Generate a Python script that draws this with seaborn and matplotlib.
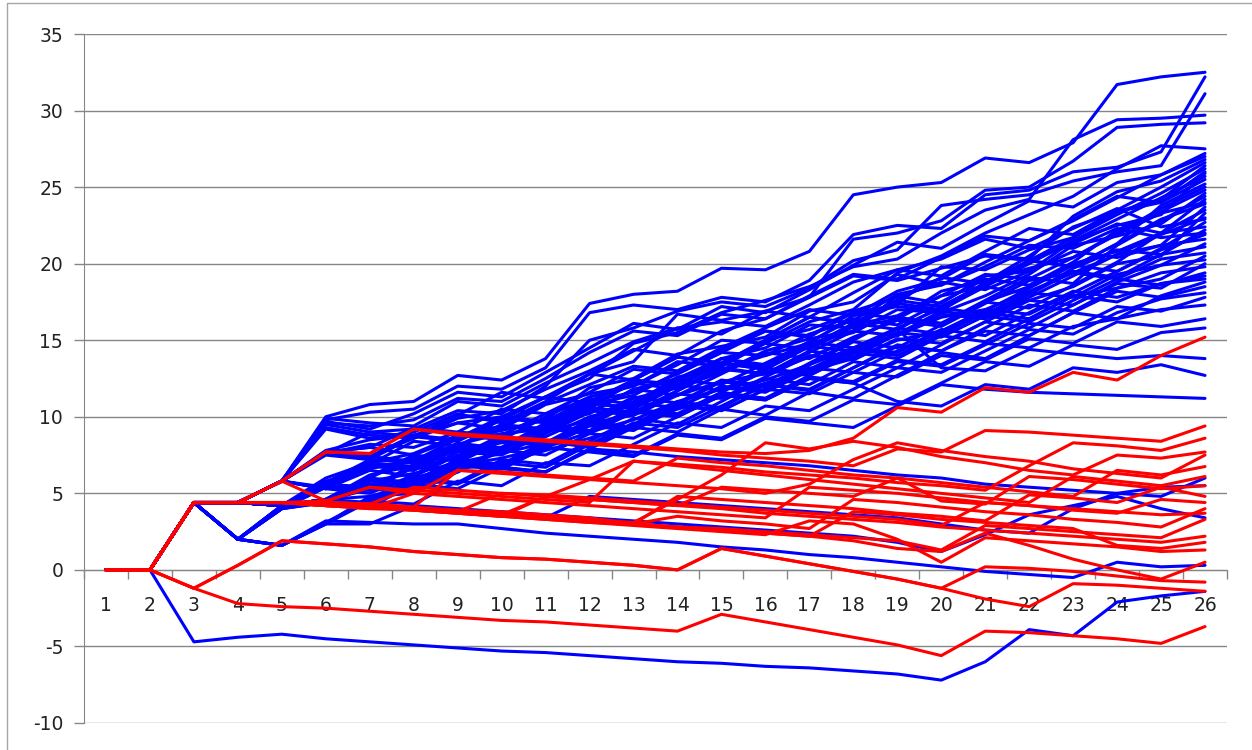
import pandas as pd
import seaborn as sns
import matplotlib.pyplot as plt
from matplotlib.ticker import MultipleLocator
from matplotlib.lines import Line2D

steps = list(range(1, 27))

blue_paths = [
    [0, 0, 4.4, 4.4, 5.8, 10.0, 10.8, 11.0, 12.7, 12.4, 13.8, 17.4, 18.0, 18.2, 19.7, 19.6, 20.8, 24.5, 25.0, 25.3, 26.9, 26.6, 27.9, 31.7, 32.2, 32.5],
    [0, 0, 4.4, 4.4, 5.8, 9.8, 10.3, 10.5, 12.0, 11.8, 13.2, 16.8, 17.3, 17.0, 17.8, 17.5, 18.9, 21.9, 22.5, 22.3, 24.5, 24.8, 26.0, 26.3, 27.3, 32.2],
    [0, 0, 4.4, 4.4, 5.8, 9.5, 9.0, 9.2, 10.4, 10.2, 12.0, 15.0, 15.8, 16.9, 17.5, 17.2, 18.4, 20.2, 20.9, 23.8, 24.2, 24.5, 25.4, 26.0, 26.4, 31.1],
    [0, 0, 4.4, 4.4, 5.8, 9.3, 8.8, 8.6, 9.6, 10.0, 11.3, 12.5, 14.8, 15.5, 16.8, 17.6, 18.5, 19.8, 20.3, 22.0, 23.5, 24.2, 28.1, 29.4, 29.5, 29.7],
    [0, 0, 4.4, 4.4, 5.8, 9.2, 8.6, 9.0, 10.2, 9.6, 11.0, 12.8, 13.6, 16.7, 16.3, 16.9, 17.8, 21.6, 22.0, 22.8, 24.8, 25.0, 26.7, 28.9, 29.1, 29.2],
    [0, 0, 4.4, 4.4, 5.8, 7.8, 8.5, 8.8, 9.6, 9.2, 10.8, 11.5, 12.0, 13.4, 15.0, 14.8, 16.2, 17.0, 19.4, 20.5, 22.0, 23.2, 24.4, 26.2, 27.7, 27.5],
    [0, 0, 4.4, 4.4, 5.8, 7.6, 8.2, 8.0, 9.0, 8.8, 10.2, 11.0, 11.6, 12.8, 14.2, 14.0, 15.4, 16.3, 18.0, 18.6, 20.1, 21.5, 22.8, 24.3, 25.8, 27.2],
    [0, 0, 4.4, 4.4, 5.8, 7.7, 8.0, 7.5, 8.6, 9.4, 10.9, 12.1, 13.3, 13.0, 14.5, 15.8, 17.0, 16.6, 18.2, 19.0, 20.6, 20.3, 23.1, 24.7, 25.4, 26.8],
    [0, 0, 4.4, 4.4, 5.8, 5.3, 6.8, 7.0, 8.1, 8.0, 9.6, 10.2, 11.8, 12.5, 13.8, 13.2, 14.8, 16.6, 17.2, 16.9, 18.8, 20.5, 22.4, 23.4, 24.2, 26.4],
    [0, 0, 4.4, 4.4, 5.8, 5.3, 6.5, 6.1, 7.5, 7.9, 9.0, 9.8, 11.2, 11.9, 12.9, 14.3, 15.1, 15.6, 17.9, 17.4, 19.2, 19.5, 21.5, 22.5, 23.2, 25.9],
    [0, 0, 4.4, 4.4, 4.2, 6.0, 7.0, 7.6, 8.8, 8.5, 10.0, 11.3, 12.0, 13.6, 13.3, 15.0, 15.7, 16.8, 17.3, 19.8, 19.6, 20.9, 21.7, 23.4, 24.0, 25.5],
    [0, 0, 4.4, 4.4, 4.2, 5.8, 6.6, 7.2, 8.2, 8.9, 9.2, 10.5, 12.4, 12.0, 13.8, 14.5, 16.0, 15.8, 16.4, 18.2, 18.9, 19.7, 20.4, 22.0, 23.6, 25.0],
    [0, 0, 4.4, 4.4, 4.2, 4.6, 6.2, 6.8, 7.8, 8.3, 8.7, 10.0, 10.8, 12.6, 13.1, 14.0, 14.8, 15.5, 17.0, 16.8, 17.9, 19.3, 21.2, 21.8, 22.6, 24.6],
    [0, 0, 4.4, 2.0, 4.2, 4.6, 5.8, 6.3, 7.0, 7.6, 8.3, 9.6, 10.1, 11.4, 12.3, 12.8, 13.9, 15.1, 16.4, 16.1, 17.5, 18.5, 20.0, 20.8, 22.0, 24.2],
    [0, 0, 4.4, 2.0, 4.0, 4.5, 5.3, 6.0, 6.8, 7.3, 8.0, 9.0, 9.8, 11.0, 11.8, 12.4, 13.4, 14.5, 15.3, 16.5, 17.0, 18.2, 19.4, 20.6, 21.2, 23.7],
    [0, 0, 4.4, 2.0, 1.6, 3.0, 4.8, 5.6, 6.6, 7.0, 7.8, 8.6, 9.5, 10.5, 11.3, 12.2, 13.0, 13.8, 15.0, 15.6, 16.8, 17.6, 18.5, 20.0, 20.5, 23.3],
    [0, 0, 4.4, 4.4, 5.8, 9.9, 9.6, 9.4, 11.0, 10.7, 12.2, 13.5, 14.9, 15.8, 16.2, 15.9, 17.3, 18.8, 19.6, 20.3, 21.6, 21.0, 22.3, 23.6, 22.4, 22.9],
    [0, 0, 4.4, 4.4, 5.8, 7.7, 7.4, 8.6, 9.9, 10.4, 11.8, 13.0, 14.4, 14.0, 15.6, 16.4, 17.8, 19.2, 18.9, 19.7, 20.5, 20.2, 21.3, 22.6, 22.0, 22.4],
    [0, 0, 4.4, 4.4, 5.8, 7.5, 7.2, 7.0, 8.6, 9.1, 9.8, 11.9, 12.5, 14.1, 14.6, 15.2, 16.9, 17.5, 19.3, 18.6, 19.8, 21.2, 21.0, 22.3, 21.7, 22.0],
    [0, 0, 4.4, 4.4, 4.2, 5.6, 6.9, 6.6, 7.4, 8.8, 9.4, 10.8, 11.4, 12.9, 14.4, 15.6, 15.2, 16.9, 17.8, 18.8, 18.3, 19.5, 20.8, 20.4, 21.2, 21.6],
    [0, 0, 4.4, 4.4, 4.2, 5.5, 5.2, 6.9, 8.3, 7.9, 9.5, 10.9, 10.6, 12.1, 13.5, 13.1, 14.6, 16.0, 16.6, 17.9, 18.5, 18.0, 19.7, 20.9, 20.6, 21.1],
    [0, 0, 4.4, 4.4, 5.8, 5.3, 5.0, 6.2, 7.7, 7.5, 8.9, 10.3, 11.8, 11.4, 12.8, 14.2, 13.8, 15.2, 16.3, 15.9, 17.4, 18.9, 19.4, 19.0, 20.3, 20.7],
    [0, 0, 4.4, 4.4, 4.2, 4.6, 4.3, 5.8, 7.2, 8.5, 8.2, 9.6, 11.0, 12.4, 12.1, 13.5, 14.9, 14.5, 15.8, 17.1, 16.7, 18.1, 17.8, 19.3, 19.9, 20.25],
    [0, 0, 4.4, 2.0, 4.2, 4.4, 5.6, 5.3, 6.8, 6.6, 8.0, 9.4, 9.1, 10.6, 11.9, 11.6, 13.0, 14.4, 14.0, 15.4, 16.8, 16.4, 17.9, 18.4, 19.4, 19.8],
    [0, 0, 4.4, 2.0, 4.0, 5.4, 5.2, 6.7, 6.4, 7.9, 9.3, 9.0, 10.5, 10.2, 11.6, 13.0, 12.7, 14.1, 15.5, 15.2, 16.6, 16.2, 17.6, 19.0, 18.6, 19.4],
    [0, 0, 4.4, 4.4, 4.2, 4.6, 6.0, 5.7, 7.1, 6.8, 8.2, 9.6, 9.3, 10.8, 10.4, 11.8, 13.2, 12.9, 14.3, 15.7, 15.3, 16.8, 18.2, 17.8, 18.7, 19.0],
    [0, 0, 4.4, 4.4, 4.2, 4.6, 4.4, 5.9, 5.6, 7.0, 6.7, 8.2, 9.6, 9.3, 10.7, 12.1, 11.8, 13.2, 14.6, 14.3, 15.6, 15.3, 16.8, 18.2, 17.8, 18.5],
    [0, 0, 4.4, 2.0, 1.6, 3.0, 4.5, 4.3, 5.8, 5.5, 7.0, 6.8, 8.2, 9.6, 9.3, 10.7, 10.4, 11.8, 13.2, 12.9, 14.3, 15.7, 15.4, 16.8, 17.7, 18.1],
    [0, 0, 4.4, 4.4, 4.2, 5.6, 5.4, 6.8, 8.2, 7.9, 9.3, 9.0, 10.4, 10.1, 11.5, 11.2, 12.6, 12.3, 13.7, 13.4, 14.8, 14.5, 15.9, 16.4, 17.0, 17.3],
    [0, 0, 4.4, 4.4, 4.2, 4.6, 6.0, 7.4, 7.1, 8.5, 8.2, 9.6, 9.3, 10.7, 10.4, 11.8, 11.5, 12.9, 12.6, 14.0, 13.7, 15.1, 14.8, 16.2, 15.9, 16.4],
    [0, 0, 4.4, 2.0, 4.2, 4.4, 4.2, 5.6, 5.3, 6.7, 6.4, 7.8, 7.5, 8.9, 8.6, 10.0, 9.7, 11.1, 10.8, 12.2, 13.6, 13.3, 14.7, 14.4, 15.5, 15.8],
    [0, 0, 4.4, 4.4, 5.8, 7.7, 7.4, 8.8, 8.5, 9.9, 9.6, 11.0, 12.4, 12.1, 13.5, 13.2, 14.6, 14.3, 15.7, 13.2, 13.0, 14.4, 14.1, 13.8, 14.0, 13.8],
    [0, 0, 4.4, 4.4, 4.2, 5.6, 5.3, 6.7, 8.1, 7.8, 9.2, 8.9, 10.3, 10.0, 11.4, 11.1, 12.5, 12.2, 11.0, 10.7, 12.1, 11.8, 13.2, 12.9, 13.4, 12.7],
    [0, 0, 4.4, 2.0, 4.0, 4.4, 5.8, 5.5, 6.9, 6.6, 8.0, 7.7, 7.4, 8.8, 8.5, 9.9, 9.6, 9.3, 10.7, 12.1, 11.8, 11.6, 11.5, 11.4, 11.3, 11.2],
    [0, 0, 4.4, 4.4, 5.8, 9.6, 9.4, 9.8, 11.2, 11.0, 12.5, 14.2, 15.6, 15.3, 16.7, 16.4, 17.9, 19.3, 19.0, 20.4, 21.8, 21.5, 22.9, 24.4, 24.0, 26.0],
    [0, 0, 4.4, 4.4, 5.8, 7.7, 8.0, 9.3, 9.0, 10.5, 10.2, 11.6, 13.1, 12.8, 14.2, 15.6, 15.3, 16.8, 16.4, 17.9, 19.3, 19.0, 20.4, 21.9, 23.3, 24.0],
    [0, 0, 4.4, 4.4, 4.2, 5.6, 7.0, 6.7, 8.1, 7.8, 9.2, 10.6, 10.3, 11.7, 13.1, 12.8, 14.2, 15.6, 15.3, 16.7, 16.4, 17.8, 19.2, 20.6, 21.9, 23.0],
    [0, 0, 4.4, 4.4, 4.2, 4.6, 5.9, 5.6, 7.0, 8.4, 8.1, 9.5, 10.9, 10.6, 12.0, 11.7, 13.1, 14.5, 14.2, 15.6, 17.0, 16.7, 18.1, 19.5, 20.9, 21.9],
    [0, 0, 4.4, 2.0, 4.0, 5.4, 6.8, 6.5, 7.9, 7.6, 9.0, 10.4, 10.1, 11.5, 11.2, 12.6, 14.0, 13.7, 15.1, 14.8, 16.2, 17.6, 17.3, 18.7, 18.4, 20.0],
    [0, 0, 4.4, 4.4, 4.2, 5.6, 5.3, 5.0, 6.4, 7.8, 7.5, 8.9, 8.6, 10.0, 11.4, 11.1, 12.5, 12.2, 13.6, 13.3, 14.7, 16.1, 15.8, 17.2, 16.9, 17.8],
    [0, 0, 4.4, 4.4, 5.8, 9.7, 9.2, 10.2, 11.6, 11.3, 12.9, 14.5, 16.1, 15.7, 17.2, 16.8, 18.3, 19.9, 21.4, 21.0, 22.6, 24.1, 23.7, 25.3, 25.8, 27.0],
    [0, 0, 4.4, 4.4, 5.8, 7.6, 9.0, 8.7, 10.1, 11.6, 11.2, 12.8, 14.3, 15.8, 15.4, 16.9, 16.5, 18.1, 19.6, 19.2, 20.8, 22.3, 21.9, 23.5, 25.0, 26.6],
    [0, 0, 4.4, 4.4, 4.2, 5.7, 7.2, 8.7, 8.4, 9.8, 11.3, 10.9, 12.4, 13.9, 13.5, 15.0, 16.5, 16.1, 17.6, 19.1, 18.7, 20.2, 21.7, 23.2, 24.6, 26.2],
    [0, 0, 4.4, 4.4, 5.8, 5.4, 6.9, 8.4, 8.1, 9.5, 9.2, 10.7, 12.2, 11.8, 13.3, 14.8, 14.4, 15.9, 17.4, 17.0, 18.5, 20.0, 21.5, 22.9, 24.3, 25.7],
    [0, 0, 4.4, 2.0, 4.1, 5.6, 5.3, 6.8, 8.2, 7.9, 9.4, 10.9, 10.5, 12.0, 13.5, 13.1, 14.6, 16.1, 15.7, 17.2, 18.7, 20.2, 19.8, 21.3, 23.8, 25.2],
    [0, 0, 4.4, 4.4, 5.8, 7.7, 7.4, 7.1, 8.6, 10.0, 9.7, 11.2, 10.8, 12.3, 13.8, 13.4, 14.9, 16.4, 16.0, 17.5, 19.0, 18.6, 20.1, 22.2, 23.4, 24.8],
    [0, 0, 4.4, 4.4, 4.2, 4.6, 6.1, 7.5, 7.2, 8.7, 8.3, 9.8, 11.3, 10.9, 12.4, 12.0, 13.5, 15.0, 16.5, 16.1, 17.6, 19.1, 18.7, 21.2, 22.8, 24.4],
    [0, 0, 4.4, 4.4, 5.8, 7.6, 7.3, 8.7, 10.1, 9.8, 11.3, 12.8, 12.4, 13.9, 13.5, 15.0, 16.5, 16.1, 17.6, 17.2, 18.7, 20.2, 19.8, 21.3, 22.9, 23.9],
    [0, 0, 4.4, 2.0, 4.2, 4.4, 5.9, 5.6, 7.1, 8.5, 8.2, 9.7, 9.3, 10.8, 12.3, 11.9, 13.4, 14.9, 14.5, 16.0, 17.5, 17.1, 18.6, 20.1, 22.0, 23.5],
    [0, 0, 4.4, 4.4, 4.2, 5.6, 5.3, 6.8, 6.5, 8.0, 9.4, 9.1, 10.6, 12.1, 11.7, 13.2, 12.8, 14.3, 15.8, 15.4, 16.9, 18.4, 19.9, 19.5, 21.0, 22.7],
    [0, 0, 4.4, 4.4, 5.8, 5.3, 6.8, 6.5, 8.0, 9.4, 9.1, 10.6, 10.2, 11.7, 13.2, 12.8, 14.3, 13.9, 15.4, 16.9, 16.5, 18.0, 19.5, 19.1, 20.6, 22.2],
    [0, 0, 4.4, 2.0, 1.6, 3.1, 4.6, 6.0, 5.7, 7.2, 6.9, 8.4, 9.9, 9.5, 11.0, 12.5, 12.1, 13.6, 13.2, 14.7, 16.2, 15.8, 17.3, 18.8, 19.9, 21.3],
    [0, 0, 4.4, 4.4, 4.2, 4.6, 4.3, 5.8, 7.2, 6.9, 8.4, 8.0, 9.5, 11.0, 10.6, 12.1, 11.7, 13.2, 14.7, 14.3, 15.8, 17.3, 16.9, 18.4, 19.0, 20.5],
    [0, 0, 4.4, 4.4, 4.2, 5.6, 7.0, 6.7, 6.4, 7.9, 9.3, 9.0, 10.5, 10.1, 11.6, 11.2, 12.7, 14.2, 13.8, 15.3, 14.9, 16.4, 17.9, 17.5, 18.7, 19.2],
    [0, 0, 4.4, 2.0, 4.0, 4.4, 4.1, 5.6, 7.0, 6.7, 6.4, 7.9, 9.3, 9.0, 10.5, 10.1, 11.6, 11.2, 12.7, 14.2, 13.8, 15.3, 16.8, 16.4, 17.9, 18.8],
    # strays below the main band
    [0, 0, -4.7, -4.4, -4.2, -4.5, -4.7, -4.9, -5.1, -5.3, -5.4, -5.6, -5.8, -6.0, -6.1, -6.3, -6.4, -6.6, -6.8, -7.2, -6.0, -3.9, -4.3, -2.1, -1.7, -1.4],
    [0, 0, 4.4, 2.0, 1.6, 3.2, 3.1, 3.0, 3.0, 2.7, 2.4, 2.2, 2.0, 1.8, 1.5, 1.3, 1.0, 0.8, 0.5, 0.2, -0.1, -0.3, -0.5, 0.5, 0.2, 0.3],
    [0, 0, 4.4, 2.0, 1.6, 3.0, 3.0, 4.2, 4.0, 3.8, 3.6, 3.4, 3.2, 3.0, 2.8, 2.6, 2.4, 2.2, 1.8, 1.2, 2.3, 3.6, 4.2, 4.8, 4.0, 3.4],
    [0, 0, 4.4, 4.4, 4.2, 4.6, 4.8, 5.0, 6.8, 6.6, 6.4, 7.9, 7.7, 7.4, 7.2, 7.0, 6.8, 6.5, 6.2, 6.0, 5.6, 5.4, 5.2, 5.0, 4.8, 6.0],
    [0, 0, 4.4, 4.4, 4.2, 4.4, 4.2, 4.0, 3.8, 3.6, 3.4, 4.8, 4.6, 4.4, 4.2, 4.0, 3.8, 3.6, 3.4, 3.0, 2.6, 2.4, 4.0, 5.0, 5.4, 5.5],
]

red_paths = [
    [0, 0, 4.4, 4.4, 5.8, 7.7, 7.6, 9.2, 8.9, 8.7, 8.5, 8.3, 8.1, 7.9, 7.7, 7.6, 7.8, 8.6, 10.6, 10.3, 11.9, 11.6, 12.9, 12.4, 14.0, 15.2],
    [0, 0, 4.4, 4.4, 5.8, 7.7, 7.6, 9.2, 8.8, 8.6, 8.4, 8.2, 8.0, 7.8, 7.5, 7.3, 7.1, 6.8, 7.9, 7.7, 9.1, 9.0, 8.8, 8.6, 8.4, 9.4],
    [0, 0, 4.4, 4.4, 4.4, 4.5, 5.4, 5.0, 6.5, 6.3, 6.1, 5.9, 7.1, 6.9, 6.7, 6.4, 6.2, 6.0, 5.7, 5.5, 5.2, 6.8, 8.3, 8.1, 7.8, 8.6],
    [0, 0, 4.4, 4.4, 4.4, 4.2, 4.2, 4.0, 3.9, 3.7, 3.5, 3.3, 3.1, 4.6, 6.2, 8.3, 7.9, 8.4, 8.0, 7.4, 7.0, 6.5, 6.2, 7.5, 7.3, 7.7],
    [0, 0, 4.4, 4.4, 4.4, 4.4, 4.3, 5.4, 5.2, 5.0, 4.8, 5.9, 5.7, 5.5, 5.3, 5.0, 5.6, 7.2, 8.3, 7.8, 7.4, 7.1, 6.6, 6.3, 6.0, 7.5],
    [0, 0, 4.4, 4.4, 4.4, 4.4, 4.3, 4.1, 6.5, 6.4, 6.2, 6.0, 5.8, 7.3, 7.0, 6.8, 6.5, 6.2, 6.0, 5.7, 5.4, 5.1, 4.8, 6.5, 6.2, 6.75],
    [0, 0, 4.4, 4.4, 5.8, 4.5, 5.4, 5.2, 5.0, 4.8, 4.6, 4.4, 7.1, 6.8, 6.5, 6.2, 5.9, 5.6, 5.3, 5.0, 4.7, 4.4, 6.1, 5.8, 5.5, 6.1],
    [0, 0, 4.4, 4.4, 4.4, 4.2, 4.1, 4.0, 3.8, 3.6, 4.8, 4.6, 4.4, 4.2, 5.4, 5.2, 5.0, 4.8, 6.0, 4.5, 4.3, 6.1, 5.9, 5.6, 5.3, 5.5],
    [0, 0, 4.4, 4.4, 4.4, 4.4, 4.3, 4.1, 3.9, 3.8, 3.6, 3.4, 3.0, 4.8, 4.6, 4.4, 4.2, 4.0, 3.7, 3.5, 3.2, 4.9, 4.7, 4.4, 5.4, 4.8],
    [0, 0, 4.4, 4.4, 4.4, 4.2, 4.0, 5.0, 4.8, 4.6, 4.4, 4.2, 4.0, 3.8, 3.6, 3.4, 5.4, 5.2, 5.0, 4.7, 4.4, 4.2, 3.9, 3.7, 4.6, 4.4],
    [0, 0, 4.4, 4.4, 4.4, 4.2, 4.1, 3.9, 3.7, 3.5, 3.3, 3.1, 3.0, 3.5, 3.2, 3.0, 2.7, 4.6, 4.4, 4.1, 3.8, 3.6, 3.3, 3.1, 2.8, 4.0],
    [0, 0, 4.4, 4.4, 4.4, 4.3, 4.1, 4.0, 3.8, 5.0, 4.9, 4.7, 4.5, 4.3, 4.1, 3.9, 3.7, 3.5, 3.3, 2.9, 4.4, 4.2, 4.0, 3.8, 3.6, 3.7],
    [0, 0, 4.4, 4.4, 4.4, 4.3, 4.2, 4.0, 3.8, 3.7, 3.5, 3.3, 3.0, 2.8, 2.7, 2.5, 2.3, 2.1, 1.9, 1.3, 2.9, 2.7, 2.5, 2.3, 2.1, 3.3],
    [0, 0, 4.4, 4.4, 4.4, 4.2, 4.1, 3.9, 3.7, 3.5, 4.8, 4.6, 4.4, 4.2, 4.0, 3.7, 3.5, 3.3, 3.1, 2.8, 2.6, 2.4, 2.2, 2.0, 1.8, 2.2],
    [0, 0, 4.4, 4.4, 4.4, 4.3, 4.2, 4.0, 3.8, 3.6, 3.4, 3.2, 3.0, 2.8, 2.6, 2.4, 2.2, 3.8, 3.6, 3.3, 3.1, 2.9, 2.7, 1.6, 1.4, 1.8],
    [0, 0, 4.4, 4.4, 4.4, 4.2, 4.0, 3.9, 3.7, 3.5, 3.3, 3.1, 2.9, 2.7, 2.5, 2.3, 3.2, 3.0, 2.0, 0.5, 2.1, 1.9, 1.7, 1.5, 1.2, 1.3],
    [0, 0, 4.4, 4.4, 4.4, 4.3, 4.2, 4.0, 3.8, 3.6, 3.4, 3.2, 3.0, 2.8, 2.6, 2.4, 2.2, 1.9, 1.4, 1.2, 2.4, 1.6, 0.7, 0.0, -0.6, 0.5],
    [0, 0, -1.2, 0.3, 1.9, 1.7, 1.5, 1.2, 1.0, 0.8, 0.7, 0.5, 0.3, 0.0, 1.4, 0.9, 0.4, -0.1, -0.6, -1.2, 0.2, 0.1, -0.1, -0.4, -0.7, -0.8],
    [0, 0, -1.2, 0.3, 1.9, 1.7, 1.5, 1.2, 1.0, 0.8, 0.7, 0.5, 0.3, 0.0, 1.4, 0.9, 0.4, -0.1, -0.6, -1.2, -1.9, -2.4, -0.9, -1.0, -1.2, -1.4],
    [0, 0, -1.2, -2.2, -2.4, -2.5, -2.7, -2.9, -3.1, -3.3, -3.4, -3.6, -3.8, -4.0, -2.9, -3.4, -3.9, -4.4, -4.9, -5.6, -4.0, -4.1, -4.3, -4.5, -4.8, -3.7],
]

assert all(len(p) == 26 for p in blue_paths + red_paths)


def to_long(paths):
    rows = []
    for i, p in enumerate(paths):
        for s, v in zip(steps, p):
            rows.append({'path': i, 'step': s, 'value': v})
    return pd.DataFrame(rows)


blue_df = to_long(blue_paths)
red_df = to_long(red_paths)

sns.set_style('white')
plt.rcParams['font.family'] = ['DejaVu Sans']
plt.rcParams['axes.unicode_minus'] = False

fig = plt.figure(figsize=(12.52, 7.5), dpi=100)
ax = fig.add_axes([84 / 1252, 1 - 723 / 750, (1227 - 84) / 1252, (723 - 34) / 750])

sns.lineplot(data=blue_df, x='step', y='value', units='path', estimator=None,
             color='#0000FF', lw=2.2, legend=False, ax=ax)
sns.lineplot(data=red_df, x='step', y='value', units='path', estimator=None,
             color='#FF0000', lw=2.2, legend=False, ax=ax)

gray = '#868686'
ax.set_xlim(0.5, 26.5)
ax.set_ylim(-10, 35)
ax.set_xlabel('')
ax.set_ylabel('')

ax.yaxis.set_major_locator(MultipleLocator(5))
ax.grid(axis='y', color=gray, lw=1)
ax.set_axisbelow(True)

for side in ['top', 'right']:
    ax.spines[side].set_visible(False)
ax.spines['left'].set_color(gray)
ax.spines['left'].set_zorder(1)
ax.spines['bottom'].set_position(('data', 0))
ax.spines['bottom'].set_color(gray)
ax.spines['bottom'].set_zorder(1)

ax.set_xticks(steps)
ax.set_xticklabels([str(s) for s in steps])
ax.set_xticks([s + 0.5 for s in range(0, 27)], minor=True)
ax.tick_params(axis='x', which='major', bottom=True, length=0, pad=19,
               labelsize=13.5, labelcolor='#222222')
ax.tick_params(axis='x', which='minor', bottom=True, length=6.5, width=1,
               color=gray, direction='out')
ax.tick_params(axis='y', which='major', left=True, length=7, width=1, color=gray,
               pad=8, labelsize=13.5, labelcolor='#222222')

# chart area border
fig.add_artist(Line2D([7 / 1252, 7 / 1252], [0, 1 - 3 / 750], color='#A6A6A6', lw=1))
fig.add_artist(Line2D([7 / 1252, 1], [1 - 3 / 750, 1 - 3 / 750], color='#A6A6A6', lw=1))

fig.savefig('out.png', dpi=100)
